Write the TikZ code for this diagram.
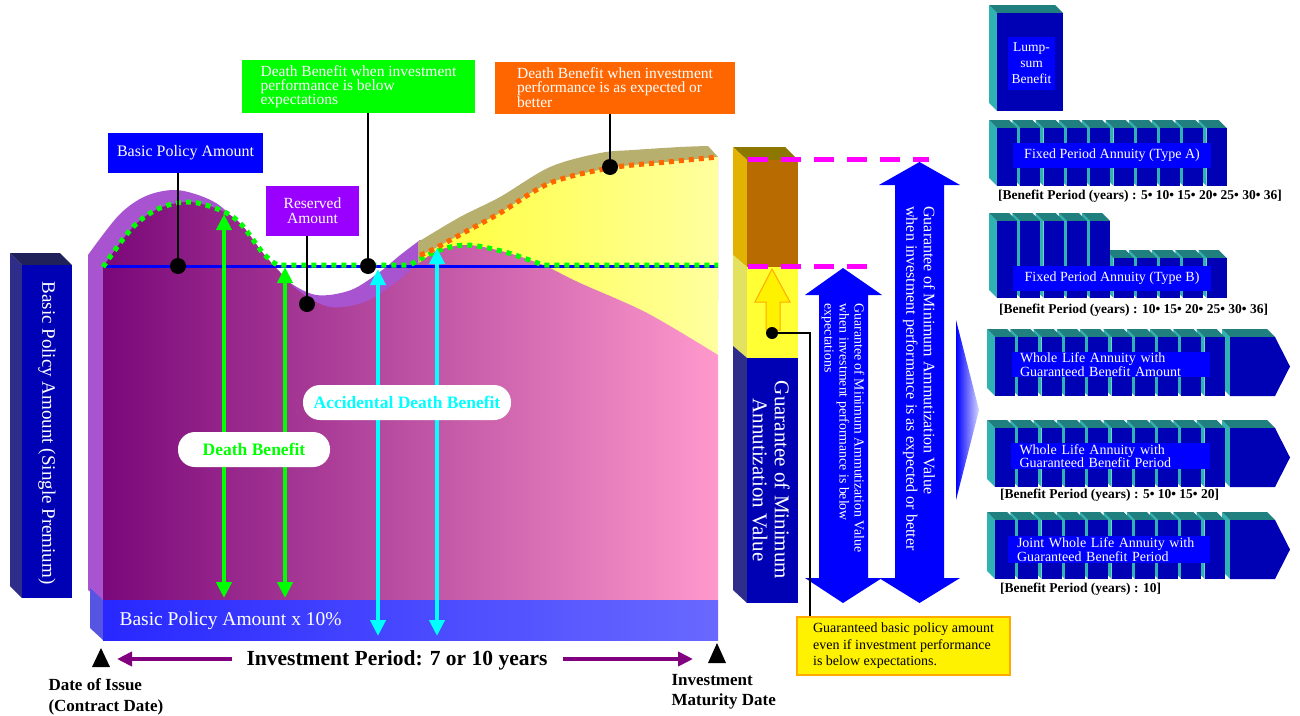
\documentclass[tikz,border=0pt]{standalone}
\usepackage{fontspec}
\setmainfont{Liberation Serif}
\usetikzlibrary{arrows.meta}

\definecolor{mainL}{RGB}{122,8,122}
\definecolor{mainR}{RGB}{255,153,204}
\definecolor{bandpurple}{RGB}{168,84,208}
\definecolor{olivebnd}{RGB}{183,175,110}
\definecolor{yelL}{RGB}{255,255,55}
\definecolor{yelR}{RGB}{255,255,160}
\definecolor{bandL}{RGB}{40,40,255}
\definecolor{bandR}{RGB}{105,105,255}
\definecolor{bandside}{RGB}{85,85,225}
\definecolor{navyfront}{RGB}{0,0,180}
\definecolor{navyside}{RGB}{46,46,138}
\definecolor{navytop}{RGB}{32,32,90}
\definecolor{tealside}{RGB}{48,178,178}
\definecolor{tealtop}{RGB}{32,128,128}
\definecolor{labelblue}{RGB}{0,0,255}
\definecolor{brownfront}{RGB}{184,107,0}
\definecolor{brownside}{RGB}{226,178,0}
\definecolor{browntop}{RGB}{140,120,0}
\definecolor{yelfront}{RGB}{255,255,51}
\definecolor{yelside}{RGB}{226,226,96}
\definecolor{dbgreen}{RGB}{0,255,0}
\definecolor{adcyan}{RGB}{0,255,255}
\definecolor{dborange}{RGB}{255,102,0}
\definecolor{respurple}{RGB}{153,0,255}
\definecolor{periodpurple}{RGB}{128,0,128}
\definecolor{magline}{RGB}{255,0,255}
\definecolor{guarborder}{RGB}{255,170,0}

\newcommand{\fsz}[2]{\fontsize{#1}{#2}\selectfont}
% one annuity bar: front-left x, front top, bottom, front width
\newcommand{\annbar}[4]{%
  \fill[tealside] (#1-8,#2-8) -- (#1,#2) -- (#1,#3) -- (#1-8,#3-8) -- cycle;
  \fill[tealtop] (#1-8,#2-8) -- (#1+#4-8,#2-8) -- (#1+#4,#2) -- (#1,#2) -- cycle;
  \fill[navyfront] (#1,#2) rectangle (#1+#4,#3);}
% arrow-shaped end piece of a whole life row
\newcommand{\annend}[3]{%
  \fill[tealside] (#1-8,#2-8) -- (#1,#2) -- (#1,#3) -- (#1-8,#3-8) -- cycle;
  \fill[tealtop] (#1-8,#2-8) -- (#1+37,#2-8) -- (#1+45,#2) -- (#1,#2) -- cycle;
  \fill[navyfront] (#1,#2) -- (#1+45,#2) -- ({#1+60},{(#2+#3)/2}) -- (#1+45,#3) -- (#1,#3) -- cycle;}

\begin{document}
\begin{tikzpicture}[x=1pt,y=-1pt,
  box/.style={inner sep=0pt,align=left,text=white},
  dot/.style={circle,fill=black,minimum size=16pt,inner sep=0pt},
  leader/.style={draw=black,line width=2pt},
  dots/.style={line width=5pt,dash pattern=on 5pt off 5pt},
  pill/.style={fill=white,rounded corners=17pt,inner sep=0pt,font=\bfseries\fsz{17.5}{20}},
  caption/.style={anchor=west,inner sep=0pt,font=\bfseries\fsz{13.5}{15}},
  prod/.style={fill=labelblue,text=white,inner sep=0pt,align=left,font=\fsz{14}{13.5}},
  grarrow/.style={draw=dbgreen,line width=4pt,{Triangle[width=15pt,length=16pt]}-{Triangle[width=15pt,length=16pt]}},
  cyarrow/.style={draw=adcyan,line width=4pt,{Triangle[width=15pt,length=16pt]}-{Triangle[width=15pt,length=16pt]}},
  perarrow/.style={draw=periodpurple,line width=4.5pt,-{Triangle[width=14pt,length=15pt]}}]
\useasboundingbox (0,0) rectangle (1300,715);

% left column
\fill[navyside] (10,253) -- (22,265) -- (22,598) -- (10,586) -- cycle;
\fill[navytop] (10,253) -- (60,253) -- (72,265) -- (22,265) -- cycle;
\fill[navyfront] (22,265) rectangle (72,598);
\node[rotate=-90,text=white,font=\fsz{19}{20}] (premium) at (47,433) {Basic Policy Amount (Single Premium)};

% chart body
\fill[bandpurple] (88,590) -- plot[smooth,tension=0.55] coordinates {(88,255) (119,215) (146,196) (176,190) (206,198) (226,211) (249,241) (266,260) (286,280) (316,295) (351,290) (381,271) (399,256) (420,240)} -- (440,253) -- (440,600) -- (103,600) -- cycle;
\fill[olivebnd] plot[smooth,tension=0.55] coordinates {(418,242) (460,217) (500,197) (550,167) (600,153) (633,150) (680,147) (708,146)} -- (718,157) -- (718,300) -- (418,300) -- cycle;
\shade[left color=yelL,right color=yelR] plot[smooth,tension=0.55] coordinates {(420,255) (432,250) (465,232) (500,213) (550,183) (610,168) (667,162) (718,157)} -- (718,400) -- (420,400) -- cycle;
\shade[left color=mainL,right color=mainR] (103,600) -- plot[smooth,tension=0.55] coordinates {(103,267) (133,227) (160,208) (190,202) (220,210) (240,223) (263,253) (280,272) (300,292) (330,307) (365,302) (395,283) (413,268) (437,251) (467,245) (505,252) (543,265) (580,283) (647,313) (718,355)} -- (718,600) -- cycle;
\fill[bandside] (90,588) -- (103,600) -- (103,640) -- (90,628) -- cycle;
\shade[left color=bandL,right color=bandR] (103,600) rectangle (718,640);
\node[anchor=west,text=white,font=\fsz{19.5}{20}] (tenpct) at (116,621) {Basic Policy Amount x 10\%};

% benefit levels
\draw[line width=3pt,blue] (103,266) -- (718,266);
\draw[dots,dbgreen] plot[smooth,tension=0.55] coordinates {(103,267) (133,227) (160,208) (190,202) (220,210) (240,223) (263,253) (277,265)} -- plot[smooth,tension=0.55] coordinates {(410,265) (437,251) (467,245) (505,252) (543,265)} -- (718,265);
\draw[dots,dborange] plot[smooth,tension=0.55] coordinates {(420,255) (432,250) (465,232) (500,213) (550,183) (610,168) (667,162) (718,157)};

% benefit arrows
\coordinate (dbAtop) at (224,214);
\coordinate (dbAbot) at (224,598);
\coordinate (dbBtop) at (285,267);
\coordinate (dbBbot) at (285,598);
\coordinate (adAtop) at (378,269);
\coordinate (adAbot) at (378,636);
\coordinate (adBtop) at (437,248);
\coordinate (adBbot) at (437,636);
\draw[grarrow] (dbAbot) -- (dbAtop);
\draw[grarrow] (dbBbot) -- (dbBtop);
\draw[cyarrow] (adAbot) -- (adAtop);
\draw[cyarrow] (adBbot) -- (adBtop);
\node[pill,text=dbgreen,minimum width=152pt,minimum height=35pt] (dblabel) at (254,449.5) {Death Benefit};
\node[pill,text=adcyan,minimum width=208pt,minimum height=35pt] (adlabel) at (407,402.5) {Accidental Death Benefit};

% callouts
\node[box,fill=labelblue,minimum width=155pt,minimum height=40pt,font=\fsz{16}{14}] (basicbox) at (185.5,153) {Basic Policy Amount};
\node[box,fill=respurple,minimum width=93pt,minimum height=50pt,align=center,font=\fsz{15.5}{15}] (resbox) at (312.5,211) {Reserved\\Amount};
\node[box,fill=dbgreen,minimum width=233pt,minimum height=53pt,font=\fsz{15.5}{14}] (lowbox) at (358.5,86.5) {Death Benefit when investment\\performance is below\\expectations};
\node[box,fill=dborange,minimum width=240pt,minimum height=52pt,font=\fsz{15.5}{14}] (highbox) at (615,88) {Death Benefit when investment\\performance is as expected or\\better};
\node[dot] (dotbasic) at (178,266) {};
\node[dot] (dotres) at (307,304) {};
\node[dot] (dotlow) at (368,266) {};
\node[dot] (dothigh) at (610,167) {};
\draw[leader] (basicbox.south -| dotbasic) -- (dotbasic.center);
\draw[leader] (resbox.south -| dotres) -- (dotres.center);
\draw[leader] (lowbox.south -| dotlow) -- (dotlow.center);
\draw[leader] (highbox.south -| dothigh) -- (dothigh.center);

% annuitization column
\fill[browntop] (733,147) -- (785,147) -- (798,160) -- (747,160) -- cycle;
\fill[brownside] (733,147) -- (747,160) -- (747,267) -- (733,255) -- cycle;
\fill[yelside] (733,255) -- (747,267) -- (747,358) -- (733,346) -- cycle;
\fill[navyside] (733,346) -- (747,358) -- (747,603) -- (733,590) -- cycle;
\fill[brownfront] (747,160) rectangle (798,267);
\fill[yelfront] (747,267) rectangle (798,358);
\fill[navyfront] (747,358) rectangle (798,603);
\node[rotate=-90,text=white,align=center,font=\fsz{21}{22}] (guartext) at (771,480) {Guarantee of Minimum\\Annutization Value};
\filldraw[fill=yellow,draw=guarborder,line width=1pt] (766,330) -- (766,302) -- (755,302) -- (772,269) -- (790,302) -- (780,302) -- (780,330) -- cycle;

% guarantee arrows
\fill[labelblue] (843,268) -- (882,295) -- (868,295) -- (868,578) -- (882,578) -- (843,603) -- (805,578) -- (819,578) -- (819,295) -- (805,295) -- cycle;
\fill[labelblue] (919.5,162) -- (960,185) -- (944,185) -- (944,578) -- (960,578) -- (919.5,603) -- (879,578) -- (895,578) -- (895,185) -- (879,185) -- cycle;
\node[rotate=-90,text=white,align=left,font=\fsz{13.8}{15}] (lowtext) at (843,428) {Guarantee of Minimum Ammutization Value\\when investment performance is below\\expectations};
\node[rotate=-90,text=white,align=left,font=\fsz{16}{17.5}] (hightext) at (919,378.5) {Guarantee of Minimum Ammutization Value\\when investment performance is as expected or better};
\draw[magline,line width=5pt,dash pattern=on 20pt off 13pt] (748,159) -- (929,159);
\draw[magline,line width=5pt,dash pattern=on 20pt off 13pt] (748,266) -- (868,266);

\node[box,text=black,fill=yellow,draw=guarborder,line width=1.5pt,minimum width=213pt,minimum height=58pt,font=\fsz{14}{16.5}] (guarbox) at (903.5,646) {Guaranteed basic policy amount\\even if investment performance\\is below expectations.};
\node[dot,minimum size=12pt] (dotguar) at (772,333) {};
\draw[leader] (dotguar.center) -| ([xshift=14pt]guarbox.north west);

\shade[left color=labelblue,right color={rgb,255:red,215;green,215;blue,255}] (956,320) -- (979,410) -- (956,500) -- cycle;

% payout options
\annbar{997}{13}{111}{66}
\node[prod,align=center,minimum width=47pt,minimum height=53pt,font=\fsz{13.5}{16}] (lump) at (1031.5,63.5) {Lump-\\sum\\Benefit};

\foreach \i in {9,8,...,0}{\pgfmathsetmacro\bx{997+23.3*\i}\annbar{\bx}{128}{186}{20}}
\node[prod,minimum width=198pt,minimum height=25pt] (typeA) at (1112,155.5) {Fixed Period Annuity (Type A)};
\node[caption] (typeAcap) at (998,196) {[Benefit Period (years) : 5• 10• 15• 20• 25• 30• 36]};

\foreach \i in {9,8,...,5}{\pgfmathsetmacro\bx{997+23.3*\i}\annbar{\bx}{258}{298}{20}}
\foreach \i in {4,3,...,0}{\pgfmathsetmacro\bx{997+23.3*\i}\annbar{\bx}{221}{298}{20}}
\node[prod,minimum width=198pt,minimum height=25pt] (typeB) at (1112,278.5) {Fixed Period Annuity (Type B)};
\node[caption] (typeBcap) at (999,310) {[Benefit Period (years) : 10• 15• 20• 25• 30• 36]};

\annend{1230}{337}{396}
\foreach \i in {9,8,...,0}{\pgfmathsetmacro\bx{995+23.3*\i}\annbar{\bx}{337}{396}{20}}
\node[prod,text width=182pt,minimum width=198pt,minimum height=25pt] (wlamount) at (1111,364.5) {Whole Life Annuity with\\Guaranteed Benefit Amount};

\annend{1230}{428}{487}
\foreach \i in {9,8,...,0}{\pgfmathsetmacro\bx{995+23.3*\i}\annbar{\bx}{428}{487}{20}}
\node[prod,text width=182pt,minimum width=199pt,minimum height=26pt] (wlperiod) at (1110.5,456) {Whole Life Annuity with\\Guaranteed Benefit Period};
\node[caption] (wlcap) at (1000,495) {[Benefit Period (years) : 5• 10• 15• 20]};

\annend{1230}{520}{579}
\foreach \i in {9,8,...,0}{\pgfmathsetmacro\bx{995+23.3*\i}\annbar{\bx}{520}{579}{20}}
\node[prod,text width=184pt,minimum width=202pt,minimum height=27pt] (joint) at (1109,549.5) {Joint Whole Life Annuity with\\Guaranteed Benefit Period};
\node[caption] (jointcap) at (1000,589) {[Benefit Period (years) : 10]};

% time axis
\fill (101,648) -- (110,667) -- (92,667) -- cycle;
\fill (717,643) -- (726,663) -- (708,663) -- cycle;
\node[font=\bfseries\fsz{21.5}{24}] (period) at (397,660) {Investment Period: 7 or 10 years};
\coordinate (perLstart) at (232,659);
\coordinate (perLend) at (117,659);
\coordinate (perRstart) at (563,659);
\coordinate (perRend) at (693,659);
\draw[perarrow] (perLstart) -- (perLend);
\draw[perarrow] (perRstart) -- (perRend);
\node[anchor=west,align=left,font=\bfseries\fsz{17}{21}] (issue) at (45,696.5) {Date of Issue\\(Contract Date)};
\node[anchor=west,align=left,font=\bfseries\fsz{17}{20}] (maturity) at (668,692) {Investment\\Maturity Date};
\end{tikzpicture}
\end{document}
